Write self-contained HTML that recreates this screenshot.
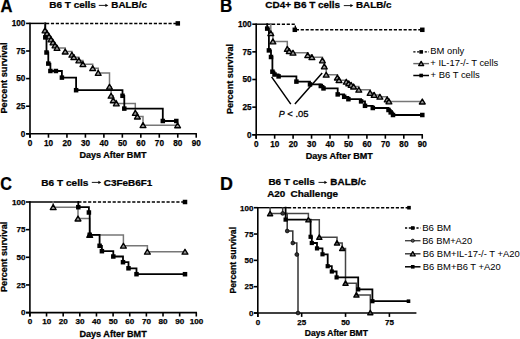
<!DOCTYPE html><html><head><meta charset="utf-8"><style>html,body{margin:0;padding:0;background:#fff;}svg{display:block;} text{font-family:"Liberation Sans",sans-serif;fill:#000;} text[font-weight=bold]{stroke:#000;stroke-width:0.25px;}</style></head><body>
<svg width="520" height="339" viewBox="0 0 520 339">
<rect width="520" height="339" fill="#fff"/>
<text transform="translate(0.49 12) scale(0.9370 1)" font-size="17.68" font-weight="bold">A</text>
<text transform="translate(219.99 12.4) scale(0.9643 1)" font-size="17.68" font-weight="bold">B</text>
<text transform="translate(0.25 189.6) scale(0.9153 1)" font-size="17.68" font-weight="bold">C</text>
<text transform="translate(220.04 189.7) scale(0.9953 1)" font-size="17.97" font-weight="bold">D</text>
<text transform="translate(49.25 8.4) scale(1.0709 1)" font-size="9.35" font-weight="bold">B6 T cells</text>
<path d="M98.8 5.4H105.9" stroke="#000" stroke-width="0.9"/>
<path d="M108.3 5.4L105.4 3.7L105.4 7.1Z" fill="#000"/>
<text transform="translate(111.36 8.45) scale(1.0696 1)" font-size="9.2" font-weight="bold">BALB/c</text>
<path d="M30 22.7V137.7" stroke="#000" stroke-width="1.6" fill="none"/>
<path d="M26.1 133.8H196.93" stroke="#000" stroke-width="1.6" fill="none"/>
<path d="M30 133.8V137.7" stroke="#000" stroke-width="1.6"/>
<text x="30.1" y="145.8" font-size="8.2" font-weight="bold" text-anchor="middle">0</text>
<path d="M48.47 133.8V137.7" stroke="#000" stroke-width="1.6"/>
<text x="48.57" y="145.8" font-size="8.2" font-weight="bold" text-anchor="middle">10</text>
<path d="M66.94 133.8V137.7" stroke="#000" stroke-width="1.6"/>
<text x="67.04" y="145.8" font-size="8.2" font-weight="bold" text-anchor="middle">20</text>
<path d="M85.41 133.8V137.7" stroke="#000" stroke-width="1.6"/>
<text x="85.51" y="145.8" font-size="8.2" font-weight="bold" text-anchor="middle">30</text>
<path d="M103.88 133.8V137.7" stroke="#000" stroke-width="1.6"/>
<text x="103.98" y="145.8" font-size="8.2" font-weight="bold" text-anchor="middle">40</text>
<path d="M122.35 133.8V137.7" stroke="#000" stroke-width="1.6"/>
<text x="122.45" y="145.8" font-size="8.2" font-weight="bold" text-anchor="middle">50</text>
<path d="M140.82 133.8V137.7" stroke="#000" stroke-width="1.6"/>
<text x="140.92" y="145.8" font-size="8.2" font-weight="bold" text-anchor="middle">60</text>
<path d="M159.29 133.8V137.7" stroke="#000" stroke-width="1.6"/>
<text x="159.39" y="145.8" font-size="8.2" font-weight="bold" text-anchor="middle">70</text>
<path d="M177.76 133.8V137.7" stroke="#000" stroke-width="1.6"/>
<text x="177.86" y="145.8" font-size="8.2" font-weight="bold" text-anchor="middle">80</text>
<path d="M196.23 133.8V137.7" stroke="#000" stroke-width="1.6"/>
<text x="196.33" y="145.8" font-size="8.2" font-weight="bold" text-anchor="middle">90</text>
<path d="M26.1 133.8H30" stroke="#000" stroke-width="1.6"/>
<text x="25.3" y="136.67" font-size="8.2" font-weight="bold" text-anchor="end">0</text>
<path d="M26.1 106.2H30" stroke="#000" stroke-width="1.6"/>
<text x="25.3" y="109.07" font-size="8.2" font-weight="bold" text-anchor="end">25</text>
<path d="M26.1 78.6H30" stroke="#000" stroke-width="1.6"/>
<text x="25.3" y="81.47" font-size="8.2" font-weight="bold" text-anchor="end">50</text>
<path d="M26.1 51H30" stroke="#000" stroke-width="1.6"/>
<text x="25.3" y="53.87" font-size="8.2" font-weight="bold" text-anchor="end">75</text>
<path d="M26.1 23.4H30" stroke="#000" stroke-width="1.6"/>
<text x="25.3" y="26.27" font-size="8.2" font-weight="bold" text-anchor="end">100</text>
<text transform="translate(79.41 158) scale(1.0410 1)" font-size="8.7" font-weight="bold">Days After BMT</text>
<text transform="translate(7 113.6) rotate(-90) scale(1.0249 1)" font-size="8.99" font-weight="bold">Percent survival</text>
<path d="M30 23.4H46" stroke="#000" stroke-width="1.5"/>
<path d="M46 23.4H178" stroke="#000" stroke-width="1.45" stroke-dasharray="3.2 1.7"/>
<rect x="175.55" y="21.15" width="4.5" height="4.5" fill="#000"/>
<path d="M44.1 23.4H45V30.5H47V33.5H49V36.5H51V39.5H53V42.5H55V45.5H57V48H65.2V51.6H71.9V54.8H73.8V57.2H78.8V60.5H82.9V64.2H92.7V68.3H98.2V73H109.5V86.8H111.1V95.8H113.2V100.4H116.3V103.5H135.3V113H137.4V116.6H143V125.2H177.6" fill="none" stroke="#777" stroke-width="1.5"/>
<path d="M44.4 23.4H45.3V37.4H46.5V52.5H48.3V63.6H50.4V71H61.9V77.6H76.1V90.2H122.5V95.8H124.3V108.6H162.8V121H176.5" fill="none" stroke="#000" stroke-width="1.8"/>
<path d="M45 27.95L47.9 32.85L42.1 32.85Z" fill="#959595" stroke="#000" stroke-width="1.35" stroke-linejoin="round"/>
<path d="M47 30.95L49.9 35.85L44.1 35.85Z" fill="#959595" stroke="#000" stroke-width="1.35" stroke-linejoin="round"/>
<path d="M49 33.95L51.9 38.85L46.1 38.85Z" fill="#959595" stroke="#000" stroke-width="1.35" stroke-linejoin="round"/>
<path d="M51 36.95L53.9 41.85L48.1 41.85Z" fill="#959595" stroke="#000" stroke-width="1.35" stroke-linejoin="round"/>
<path d="M53 39.95L55.9 44.85L50.1 44.85Z" fill="#959595" stroke="#000" stroke-width="1.35" stroke-linejoin="round"/>
<path d="M55 42.95L57.9 47.85L52.1 47.85Z" fill="#959595" stroke="#000" stroke-width="1.35" stroke-linejoin="round"/>
<path d="M57 45.45L59.9 50.35L54.1 50.35Z" fill="#959595" stroke="#000" stroke-width="1.35" stroke-linejoin="round"/>
<path d="M65.2 49.05L68.1 53.95L62.3 53.95Z" fill="#959595" stroke="#000" stroke-width="1.35" stroke-linejoin="round"/>
<path d="M71.9 52.25L74.8 57.15L69 57.15Z" fill="#959595" stroke="#000" stroke-width="1.35" stroke-linejoin="round"/>
<path d="M73.8 54.65L76.7 59.55L70.9 59.55Z" fill="#959595" stroke="#000" stroke-width="1.35" stroke-linejoin="round"/>
<path d="M78.8 57.95L81.7 62.85L75.9 62.85Z" fill="#959595" stroke="#000" stroke-width="1.35" stroke-linejoin="round"/>
<path d="M82.9 61.65L85.8 66.55L80 66.55Z" fill="#959595" stroke="#000" stroke-width="1.35" stroke-linejoin="round"/>
<path d="M92.7 65.75L95.6 70.65L89.8 70.65Z" fill="#959595" stroke="#000" stroke-width="1.35" stroke-linejoin="round"/>
<path d="M98.2 70.45L101.1 75.35L95.3 75.35Z" fill="#959595" stroke="#000" stroke-width="1.35" stroke-linejoin="round"/>
<path d="M109.5 84.25L112.4 89.15L106.6 89.15Z" fill="#959595" stroke="#000" stroke-width="1.35" stroke-linejoin="round"/>
<path d="M111.1 93.25L114 98.15L108.2 98.15Z" fill="#959595" stroke="#000" stroke-width="1.35" stroke-linejoin="round"/>
<path d="M113.2 97.85L116.1 102.75L110.3 102.75Z" fill="#959595" stroke="#000" stroke-width="1.35" stroke-linejoin="round"/>
<path d="M116.3 100.95L119.2 105.85L113.4 105.85Z" fill="#959595" stroke="#000" stroke-width="1.35" stroke-linejoin="round"/>
<path d="M135.3 110.45L138.2 115.35L132.4 115.35Z" fill="#959595" stroke="#000" stroke-width="1.35" stroke-linejoin="round"/>
<path d="M137.4 114.05L140.3 118.95L134.5 118.95Z" fill="#959595" stroke="#000" stroke-width="1.35" stroke-linejoin="round"/>
<path d="M143 122.65L145.9 127.55L140.1 127.55Z" fill="#959595" stroke="#000" stroke-width="1.35" stroke-linejoin="round"/>
<path d="M177.6 122.85L180.5 127.75L174.7 127.75Z" fill="#959595" stroke="#000" stroke-width="1.35" stroke-linejoin="round"/>
<rect x="43.05" y="35.15" width="4.5" height="4.5" fill="#000"/>
<rect x="44.25" y="50.25" width="4.5" height="4.5" fill="#000"/>
<rect x="46.05" y="61.35" width="4.5" height="4.5" fill="#000"/>
<rect x="48.15" y="68.75" width="4.5" height="4.5" fill="#000"/>
<rect x="59.65" y="75.35" width="4.5" height="4.5" fill="#000"/>
<rect x="73.85" y="87.95" width="4.5" height="4.5" fill="#000"/>
<rect x="120.25" y="93.55" width="4.5" height="4.5" fill="#000"/>
<rect x="122.05" y="106.35" width="4.5" height="4.5" fill="#000"/>
<rect x="160.55" y="118.75" width="4.5" height="4.5" fill="#000"/>
<rect x="53.65" y="68.75" width="4.5" height="4.5" fill="#000"/>
<rect x="174.05" y="118.75" width="4.5" height="4.5" fill="#000"/>
<text transform="translate(265.3 8.4) scale(1.0640 1)" font-size="9.35" font-weight="bold">CD4+ B6 T cells</text>
<path d="M343.8 5.6H350.9" stroke="#000" stroke-width="0.9"/>
<path d="M353.3 5.6L350.4 3.9L350.4 7.3Z" fill="#000"/>
<text transform="translate(355.96 8.4) scale(1.0696 1)" font-size="9.2" font-weight="bold">BALB/c</text>
<path d="M256.2 23.5V138.7" stroke="#000" stroke-width="1.6" fill="none"/>
<path d="M252.3 134.8H422.95" stroke="#000" stroke-width="1.6" fill="none"/>
<path d="M256.2 134.8V138.7" stroke="#000" stroke-width="1.6"/>
<text x="256.3" y="147" font-size="8.2" font-weight="bold" text-anchor="middle">0</text>
<path d="M274.65 134.8V138.7" stroke="#000" stroke-width="1.6"/>
<text x="274.75" y="147" font-size="8.2" font-weight="bold" text-anchor="middle">10</text>
<path d="M293.1 134.8V138.7" stroke="#000" stroke-width="1.6"/>
<text x="293.2" y="147" font-size="8.2" font-weight="bold" text-anchor="middle">20</text>
<path d="M311.55 134.8V138.7" stroke="#000" stroke-width="1.6"/>
<text x="311.65" y="147" font-size="8.2" font-weight="bold" text-anchor="middle">30</text>
<path d="M330 134.8V138.7" stroke="#000" stroke-width="1.6"/>
<text x="330.1" y="147" font-size="8.2" font-weight="bold" text-anchor="middle">40</text>
<path d="M348.45 134.8V138.7" stroke="#000" stroke-width="1.6"/>
<text x="348.55" y="147" font-size="8.2" font-weight="bold" text-anchor="middle">50</text>
<path d="M366.9 134.8V138.7" stroke="#000" stroke-width="1.6"/>
<text x="367" y="147" font-size="8.2" font-weight="bold" text-anchor="middle">60</text>
<path d="M385.35 134.8V138.7" stroke="#000" stroke-width="1.6"/>
<text x="385.45" y="147" font-size="8.2" font-weight="bold" text-anchor="middle">70</text>
<path d="M403.8 134.8V138.7" stroke="#000" stroke-width="1.6"/>
<text x="403.9" y="147" font-size="8.2" font-weight="bold" text-anchor="middle">80</text>
<path d="M422.25 134.8V138.7" stroke="#000" stroke-width="1.6"/>
<text x="422.35" y="147" font-size="8.2" font-weight="bold" text-anchor="middle">90</text>
<path d="M252.3 134.8H256.2" stroke="#000" stroke-width="1.6"/>
<text x="251.6" y="137.67" font-size="8.2" font-weight="bold" text-anchor="end">0</text>
<path d="M252.3 107.15H256.2" stroke="#000" stroke-width="1.6"/>
<text x="251.6" y="110.02" font-size="8.2" font-weight="bold" text-anchor="end">25</text>
<path d="M252.3 79.5H256.2" stroke="#000" stroke-width="1.6"/>
<text x="251.6" y="82.37" font-size="8.2" font-weight="bold" text-anchor="end">50</text>
<path d="M252.3 51.85H256.2" stroke="#000" stroke-width="1.6"/>
<text x="251.6" y="54.72" font-size="8.2" font-weight="bold" text-anchor="end">75</text>
<path d="M252.3 24.2H256.2" stroke="#000" stroke-width="1.6"/>
<text x="251.6" y="27.07" font-size="8.2" font-weight="bold" text-anchor="end">100</text>
<text transform="translate(305.71 158.7) scale(1.0410 1)" font-size="8.7" font-weight="bold">Days After BMT</text>
<text transform="translate(232.8 114.09) rotate(-90) scale(0.9787 1)" font-size="9.28" font-weight="bold">Percent survival</text>
<path d="M256 24.2H272" stroke="#000" stroke-width="1.4"/>
<path d="M272 24.2H295.3V29.8H422" fill="none" stroke="#000" stroke-width="1.45" stroke-dasharray="3.2 1.7"/>
<rect x="292.55" y="27.55" width="4.5" height="4.5" fill="#000"/>
<rect x="420.05" y="27.55" width="4.5" height="4.5" fill="#000"/>
<path d="M269.9 24.2H270.8V33.3H272.9V41.5H287.3V48.9H289.2V51.2H293V52.8H307.7V55.2H311.9V57.2H322.4V60.5H324.3V66.5H326.2V74.8H337.4V77.6H339V80.2H346.3V81.8H348.7V83.4H351.1V85H353.6V86.6H358.8V89.8H370.1V93H374.1V95H379.9V96.8H387.2V99.5H388.9V101.5H422.3" fill="none" stroke="#777" stroke-width="1.5"/>
<path d="M266.3 24.2H267.2V28.6H268.9V50.4H271V57H272.4V71.7H274.5V74.5H278.6V76.4H296.4V81.6H310V84.4H320.8V86H323.5V88.4H337.7V94.4H344.2V96.8H348.4V99.2H361.1V101.4H365V105.8H372.8V108H388.5V110H390.7V112.4H393V115H422.3" fill="none" stroke="#000" stroke-width="1.8"/>
<path d="M270.8 30.75L273.7 35.65L267.9 35.65Z" fill="#959595" stroke="#000" stroke-width="1.35" stroke-linejoin="round"/>
<path d="M272.9 38.95L275.8 43.85L270 43.85Z" fill="#959595" stroke="#000" stroke-width="1.35" stroke-linejoin="round"/>
<path d="M287.3 46.35L290.2 51.25L284.4 51.25Z" fill="#959595" stroke="#000" stroke-width="1.35" stroke-linejoin="round"/>
<path d="M289.2 48.65L292.1 53.55L286.3 53.55Z" fill="#959595" stroke="#000" stroke-width="1.35" stroke-linejoin="round"/>
<path d="M293 50.25L295.9 55.15L290.1 55.15Z" fill="#959595" stroke="#000" stroke-width="1.35" stroke-linejoin="round"/>
<path d="M307.7 52.65L310.6 57.55L304.8 57.55Z" fill="#959595" stroke="#000" stroke-width="1.35" stroke-linejoin="round"/>
<path d="M311.9 54.65L314.8 59.55L309 59.55Z" fill="#959595" stroke="#000" stroke-width="1.35" stroke-linejoin="round"/>
<path d="M322.4 57.95L325.3 62.85L319.5 62.85Z" fill="#959595" stroke="#000" stroke-width="1.35" stroke-linejoin="round"/>
<path d="M324.3 63.95L327.2 68.85L321.4 68.85Z" fill="#959595" stroke="#000" stroke-width="1.35" stroke-linejoin="round"/>
<path d="M326.2 72.25L329.1 77.15L323.3 77.15Z" fill="#959595" stroke="#000" stroke-width="1.35" stroke-linejoin="round"/>
<path d="M337.4 75.05L340.3 79.95L334.5 79.95Z" fill="#959595" stroke="#000" stroke-width="1.35" stroke-linejoin="round"/>
<path d="M339 77.65L341.9 82.55L336.1 82.55Z" fill="#959595" stroke="#000" stroke-width="1.35" stroke-linejoin="round"/>
<path d="M346.3 79.25L349.2 84.15L343.4 84.15Z" fill="#959595" stroke="#000" stroke-width="1.35" stroke-linejoin="round"/>
<path d="M348.7 80.85L351.6 85.75L345.8 85.75Z" fill="#959595" stroke="#000" stroke-width="1.35" stroke-linejoin="round"/>
<path d="M351.1 82.45L354 87.35L348.2 87.35Z" fill="#959595" stroke="#000" stroke-width="1.35" stroke-linejoin="round"/>
<path d="M353.6 84.05L356.5 88.95L350.7 88.95Z" fill="#959595" stroke="#000" stroke-width="1.35" stroke-linejoin="round"/>
<path d="M358.8 87.25L361.7 92.15L355.9 92.15Z" fill="#959595" stroke="#000" stroke-width="1.35" stroke-linejoin="round"/>
<path d="M370.1 90.45L373 95.35L367.2 95.35Z" fill="#959595" stroke="#000" stroke-width="1.35" stroke-linejoin="round"/>
<path d="M374.1 92.45L377 97.35L371.2 97.35Z" fill="#959595" stroke="#000" stroke-width="1.35" stroke-linejoin="round"/>
<path d="M379.9 94.25L382.8 99.15L377 99.15Z" fill="#959595" stroke="#000" stroke-width="1.35" stroke-linejoin="round"/>
<path d="M387.2 96.95L390.1 101.85L384.3 101.85Z" fill="#959595" stroke="#000" stroke-width="1.35" stroke-linejoin="round"/>
<path d="M388.9 98.95L391.8 103.85L386 103.85Z" fill="#959595" stroke="#000" stroke-width="1.35" stroke-linejoin="round"/>
<path d="M422.3 99.05L425.2 103.95L419.4 103.95Z" fill="#959595" stroke="#000" stroke-width="1.35" stroke-linejoin="round"/>
<rect x="264.95" y="26.35" width="4.5" height="4.5" fill="#000"/>
<rect x="266.65" y="48.15" width="4.5" height="4.5" fill="#000"/>
<rect x="268.75" y="54.75" width="4.5" height="4.5" fill="#000"/>
<rect x="270.15" y="69.45" width="4.5" height="4.5" fill="#000"/>
<rect x="272.25" y="72.25" width="4.5" height="4.5" fill="#000"/>
<rect x="276.35" y="74.15" width="4.5" height="4.5" fill="#000"/>
<rect x="294.15" y="79.35" width="4.5" height="4.5" fill="#000"/>
<rect x="307.75" y="82.15" width="4.5" height="4.5" fill="#000"/>
<rect x="318.55" y="83.75" width="4.5" height="4.5" fill="#000"/>
<rect x="321.25" y="86.15" width="4.5" height="4.5" fill="#000"/>
<rect x="335.45" y="92.15" width="4.5" height="4.5" fill="#000"/>
<rect x="341.95" y="94.55" width="4.5" height="4.5" fill="#000"/>
<rect x="346.15" y="96.95" width="4.5" height="4.5" fill="#000"/>
<rect x="358.85" y="99.15" width="4.5" height="4.5" fill="#000"/>
<rect x="362.75" y="103.55" width="4.5" height="4.5" fill="#000"/>
<rect x="370.55" y="105.75" width="4.5" height="4.5" fill="#000"/>
<rect x="386.25" y="107.75" width="4.5" height="4.5" fill="#000"/>
<rect x="388.45" y="110.15" width="4.5" height="4.5" fill="#000"/>
<rect x="390.75" y="112.75" width="4.5" height="4.5" fill="#000"/>
<rect x="420.05" y="112.75" width="4.5" height="4.5" fill="#000"/>
<path d="M271.6 76.9L290.8 104.1M294.9 104.1L322.2 73.1" stroke="#000" stroke-width="1.5" fill="none"/>
<g stroke="#000" stroke-width="0.3">
<text transform="translate(278.73 117.2) scale(0.9154 1)" font-size="9.71" font-weight="normal" font-style="italic">P</text>
<text transform="translate(287.33 117.2) scale(0.9726 1)" font-size="9.71" font-weight="normal">&lt; .05</text>
</g>
<path d="M413.3 51.9H429" stroke="#000" stroke-width="1.4" stroke-dasharray="2.2 1.6"/>
<rect x="419.35" y="50.1" width="3.6" height="3.6" fill="#000"/>
<path d="M413.3 63.6H429" stroke="#666" stroke-width="1.4"/>
<path d="M421.15 61.43L423.61 65.6L418.69 65.6Z" fill="#959595" stroke="#000" stroke-width="1.35" stroke-linejoin="round"/>
<path d="M413.3 75.5H429" stroke="#000" stroke-width="1.5"/>
<rect x="419.35" y="73.7" width="3.6" height="3.6" fill="#000"/>
<text transform="translate(430.24 54.4) scale(1.0347 1)" font-size="9.13" font-weight="normal">BM only</text>
<text transform="translate(430.33 65.9) scale(1.0005 1)" font-size="9.42" font-weight="normal">+ IL-17-/- T cells</text>
<text transform="translate(430.53 77.9) scale(1.0355 1)" font-size="9.13" font-weight="normal">+ B6 T cells</text>
<text transform="translate(41.35 185.5) scale(1.1036 1)" font-size="9.13" font-weight="bold">B6 T cells</text>
<path d="M91.8 182.4H98.9" stroke="#000" stroke-width="0.9"/>
<path d="M101.3 182.4L98.4 180.7L98.4 184.1Z" fill="#000"/>
<text transform="translate(103.8 185.5) scale(1.0896 1)" font-size="9.13" font-weight="bold">C3FeB6F1</text>
<path d="M29.9 201.3V316.5" stroke="#000" stroke-width="1.6" fill="none"/>
<path d="M26 312.6H197" stroke="#000" stroke-width="1.6" fill="none"/>
<path d="M29.9 312.6V316.5" stroke="#000" stroke-width="1.6"/>
<text x="30" y="324.4" font-size="8.1" font-weight="bold" text-anchor="middle">0</text>
<path d="M46.54 312.6V316.5" stroke="#000" stroke-width="1.6"/>
<text x="46.64" y="324.4" font-size="8.1" font-weight="bold" text-anchor="middle">10</text>
<path d="M63.18 312.6V316.5" stroke="#000" stroke-width="1.6"/>
<text x="63.28" y="324.4" font-size="8.1" font-weight="bold" text-anchor="middle">20</text>
<path d="M79.82 312.6V316.5" stroke="#000" stroke-width="1.6"/>
<text x="79.92" y="324.4" font-size="8.1" font-weight="bold" text-anchor="middle">30</text>
<path d="M96.46 312.6V316.5" stroke="#000" stroke-width="1.6"/>
<text x="96.56" y="324.4" font-size="8.1" font-weight="bold" text-anchor="middle">40</text>
<path d="M113.1 312.6V316.5" stroke="#000" stroke-width="1.6"/>
<text x="113.2" y="324.4" font-size="8.1" font-weight="bold" text-anchor="middle">50</text>
<path d="M129.74 312.6V316.5" stroke="#000" stroke-width="1.6"/>
<text x="129.84" y="324.4" font-size="8.1" font-weight="bold" text-anchor="middle">60</text>
<path d="M146.38 312.6V316.5" stroke="#000" stroke-width="1.6"/>
<text x="146.48" y="324.4" font-size="8.1" font-weight="bold" text-anchor="middle">70</text>
<path d="M163.02 312.6V316.5" stroke="#000" stroke-width="1.6"/>
<text x="163.12" y="324.4" font-size="8.1" font-weight="bold" text-anchor="middle">80</text>
<path d="M179.66 312.6V316.5" stroke="#000" stroke-width="1.6"/>
<text x="179.76" y="324.4" font-size="8.1" font-weight="bold" text-anchor="middle">90</text>
<path d="M196.3 312.6V316.5" stroke="#000" stroke-width="1.6"/>
<text x="196.4" y="324.4" font-size="8.1" font-weight="bold" text-anchor="middle">100</text>
<path d="M26 312.6H29.9" stroke="#000" stroke-width="1.6"/>
<text x="25.5" y="315.44" font-size="8.1" font-weight="bold" text-anchor="end">0</text>
<path d="M26 284.95H29.9" stroke="#000" stroke-width="1.6"/>
<text x="25.5" y="287.79" font-size="8.1" font-weight="bold" text-anchor="end">25</text>
<path d="M26 257.3H29.9" stroke="#000" stroke-width="1.6"/>
<text x="25.5" y="260.13" font-size="8.1" font-weight="bold" text-anchor="end">50</text>
<path d="M26 229.65H29.9" stroke="#000" stroke-width="1.6"/>
<text x="25.5" y="232.49" font-size="8.1" font-weight="bold" text-anchor="end">75</text>
<path d="M26 202H29.9" stroke="#000" stroke-width="1.6"/>
<text x="25.5" y="204.84" font-size="8.1" font-weight="bold" text-anchor="end">100</text>
<text transform="translate(79.41 336.7) scale(1.0457 1)" font-size="8.7" font-weight="bold">Days After BMT</text>
<text transform="translate(6.8 291.99) rotate(-90) scale(1.0132 1)" font-size="8.99" font-weight="bold">Percent survival</text>
<path d="M29.8 202H78.3" stroke="#000" stroke-width="1.5"/>
<path d="M78.3 202H185" stroke="#000" stroke-width="1.45" stroke-dasharray="3.2 1.7"/>
<rect x="182.75" y="199.75" width="4.5" height="4.5" fill="#000"/>
<path d="M52.3 202H53.2V207.2H78V218.6H89.7V235H123.4V245.8H147.4V251.8H185" fill="none" stroke="#777" stroke-width="1.5"/>
<path d="M77.4 202H78.3V207.2H88.9V212.5H89.7V234.8H99.6V245.8H101.9V251.2H113.3V256.5H123V262.2H128.5V268.3H136.5V274.2H185" fill="none" stroke="#000" stroke-width="1.8"/>
<path d="M53.2 204.65L56.1 209.55L50.3 209.55Z" fill="#959595" stroke="#000" stroke-width="1.35" stroke-linejoin="round"/>
<path d="M78 216.05L80.9 220.95L75.1 220.95Z" fill="#959595" stroke="#000" stroke-width="1.35" stroke-linejoin="round"/>
<path d="M89.7 232.45L92.6 237.35L86.8 237.35Z" fill="#959595" stroke="#000" stroke-width="1.35" stroke-linejoin="round"/>
<path d="M123.4 243.25L126.3 248.15L120.5 248.15Z" fill="#959595" stroke="#000" stroke-width="1.35" stroke-linejoin="round"/>
<path d="M147.4 249.25L150.3 254.15L144.5 254.15Z" fill="#959595" stroke="#000" stroke-width="1.35" stroke-linejoin="round"/>
<path d="M185 249.25L187.9 254.15L182.1 254.15Z" fill="#959595" stroke="#000" stroke-width="1.35" stroke-linejoin="round"/>
<rect x="76.05" y="204.95" width="4.5" height="4.5" fill="#000"/>
<rect x="86.65" y="210.25" width="4.5" height="4.5" fill="#000"/>
<rect x="87.45" y="232.55" width="4.5" height="4.5" fill="#000"/>
<rect x="97.35" y="243.55" width="4.5" height="4.5" fill="#000"/>
<rect x="99.65" y="248.95" width="4.5" height="4.5" fill="#000"/>
<rect x="111.05" y="254.25" width="4.5" height="4.5" fill="#000"/>
<rect x="120.75" y="259.95" width="4.5" height="4.5" fill="#000"/>
<rect x="126.25" y="266.05" width="4.5" height="4.5" fill="#000"/>
<rect x="134.25" y="271.95" width="4.5" height="4.5" fill="#000"/>
<rect x="182.75" y="271.95" width="4.5" height="4.5" fill="#000"/>
<text transform="translate(268.45 185.4) scale(1.0892 1)" font-size="9.13" font-weight="bold">B6 T cells</text>
<path d="M318.5 182.4H324.9" stroke="#000" stroke-width="0.9"/>
<path d="M327.3 182.4L324.4 180.7L324.4 184.1Z" fill="#000"/>
<text transform="translate(330.36 185.3) scale(1.0758 1)" font-size="9.2" font-weight="bold">BALB/c</text>
<text transform="translate(267.15 196.5) scale(1.0829 1)" font-size="9.13" font-weight="bold">A20</text>
<text transform="translate(290.5 196.5) scale(1.0917 1)" font-size="9.13" font-weight="bold">Challenge</text>
<path d="M257.8 207V316.9" stroke="#000" stroke-width="1.6" fill="none"/>
<path d="M253.9 313H416.42" stroke="#000" stroke-width="1.6" fill="none"/>
<path d="M257.8 313V316.9" stroke="#000" stroke-width="1.6"/>
<text x="257.9" y="324.6" font-size="8" font-weight="bold" text-anchor="middle">0</text>
<path d="M301.67 313V316.9" stroke="#000" stroke-width="1.6"/>
<text x="301.77" y="324.6" font-size="8" font-weight="bold" text-anchor="middle">25</text>
<path d="M345.54 313V316.9" stroke="#000" stroke-width="1.6"/>
<text x="345.64" y="324.6" font-size="8" font-weight="bold" text-anchor="middle">50</text>
<path d="M389.4 313V316.9" stroke="#000" stroke-width="1.6"/>
<text x="389.5" y="324.6" font-size="8" font-weight="bold" text-anchor="middle">75</text>
<path d="M253.9 313H257.8" stroke="#000" stroke-width="1.6"/>
<text x="253.4" y="315.8" font-size="8" font-weight="bold" text-anchor="end">0</text>
<path d="M253.9 286.68H257.8" stroke="#000" stroke-width="1.6"/>
<text x="253.4" y="289.48" font-size="8" font-weight="bold" text-anchor="end">25</text>
<path d="M253.9 260.35H257.8" stroke="#000" stroke-width="1.6"/>
<text x="253.4" y="263.15" font-size="8" font-weight="bold" text-anchor="end">50</text>
<path d="M253.9 234.03H257.8" stroke="#000" stroke-width="1.6"/>
<text x="253.4" y="236.83" font-size="8" font-weight="bold" text-anchor="end">75</text>
<path d="M253.9 207.7H257.8" stroke="#000" stroke-width="1.6"/>
<text x="253.4" y="210.5" font-size="8" font-weight="bold" text-anchor="end">100</text>
<text transform="translate(304.85 336) scale(1.0331 1)" font-size="8.26" font-weight="bold">Days After BMT</text>
<text transform="translate(235.6 293.46) rotate(-90) scale(1.0251 1)" font-size="8.41" font-weight="bold">Percent survival</text>
<path d="M257.8 207.7H288" stroke="#000" stroke-width="1.4"/>
<path d="M288 207.7H409" stroke="#000" stroke-width="1.45" stroke-dasharray="3.2 1.7"/>
<rect x="407.2" y="205.9" width="3.6" height="3.6" fill="#000"/>
<path d="M281.8 207.7H282.7V213.4H287.2V231H292.8V243H296.8V254.5H298V313" fill="none" stroke="#333" stroke-width="1.5"/>
<path d="M269.2 207.7H270.1V213.6H308.4V219.8H319.3V237.2H337V243H342.2V248.4H345.5V283.2H356.4V295H370.3V312.6" fill="none" stroke="#444" stroke-width="1.5"/>
<path d="M284.7 207.7H285.6V219.6H310.6V236.8H311.8V243H317V248.4H322.5V254.3H327.7V266.2H331.8V271.5H336.6V277.4H358.2V289.4H372.4V301.2H408.5" fill="none" stroke="#000" stroke-width="1.8"/>
<circle cx="282.7" cy="213.4" r="1.9" fill="#333" stroke="#000" stroke-width="0.7"/>
<circle cx="287.2" cy="231" r="1.9" fill="#333" stroke="#000" stroke-width="0.7"/>
<circle cx="292.8" cy="243" r="1.9" fill="#333" stroke="#000" stroke-width="0.7"/>
<circle cx="296.8" cy="254.5" r="1.9" fill="#333" stroke="#000" stroke-width="0.7"/>
<circle cx="298" cy="313" r="1.9" fill="#333" stroke="#000" stroke-width="0.7"/>
<path d="M270.1 211.31L272.71 215.72L267.49 215.72Z" fill="#555" stroke="#000" stroke-width="1.35" stroke-linejoin="round"/>
<path d="M308.4 217.51L311.01 221.92L305.79 221.92Z" fill="#555" stroke="#000" stroke-width="1.35" stroke-linejoin="round"/>
<path d="M319.3 234.91L321.91 239.32L316.69 239.32Z" fill="#555" stroke="#000" stroke-width="1.35" stroke-linejoin="round"/>
<path d="M337 240.71L339.61 245.12L334.39 245.12Z" fill="#555" stroke="#000" stroke-width="1.35" stroke-linejoin="round"/>
<path d="M342.2 246.11L344.81 250.52L339.59 250.52Z" fill="#555" stroke="#000" stroke-width="1.35" stroke-linejoin="round"/>
<path d="M345.5 280.91L348.11 285.32L342.89 285.32Z" fill="#555" stroke="#000" stroke-width="1.35" stroke-linejoin="round"/>
<path d="M356.4 292.71L359.01 297.12L353.79 297.12Z" fill="#555" stroke="#000" stroke-width="1.35" stroke-linejoin="round"/>
<path d="M370.3 310.31L372.91 314.72L367.69 314.72Z" fill="#555" stroke="#000" stroke-width="1.35" stroke-linejoin="round"/>
<rect x="283.5" y="217.5" width="4.2" height="4.2" fill="#000"/>
<rect x="308.5" y="234.7" width="4.2" height="4.2" fill="#000"/>
<rect x="309.7" y="240.9" width="4.2" height="4.2" fill="#000"/>
<rect x="314.9" y="246.3" width="4.2" height="4.2" fill="#000"/>
<rect x="320.4" y="252.2" width="4.2" height="4.2" fill="#000"/>
<rect x="325.6" y="264.1" width="4.2" height="4.2" fill="#000"/>
<rect x="329.7" y="269.4" width="4.2" height="4.2" fill="#000"/>
<rect x="334.5" y="275.3" width="4.2" height="4.2" fill="#000"/>
<rect x="356.1" y="287.3" width="4.2" height="4.2" fill="#000"/>
<rect x="370.3" y="299.1" width="4.2" height="4.2" fill="#000"/>
<rect x="406.7" y="299.4" width="3.6" height="3.6" fill="#000"/>
<path d="M405 228H420.5" stroke="#000" stroke-width="1.4" stroke-dasharray="2.2 1.6"/>
<rect x="410.95" y="226.2" width="3.6" height="3.6" fill="#000"/>
<path d="M405 240.7H420.5" stroke="#444" stroke-width="1.4"/>
<circle cx="412.75" cy="240.7" r="1.6" fill="#555" stroke="#000" stroke-width="0.7"/>
<path d="M405 253.8H420.5" stroke="#333" stroke-width="1.4"/>
<path d="M412.75 251.63L415.21 255.8L410.29 255.8Z" fill="#959595" stroke="#000" stroke-width="1.35" stroke-linejoin="round"/>
<path d="M405 266.8H420.5" stroke="#000" stroke-width="1.5"/>
<rect x="410.95" y="265" width="3.6" height="3.6" fill="#000"/>
<text transform="translate(422.13 231.2) scale(1.0440 1)" font-size="9.28" font-weight="normal">B6 BM</text>
<text transform="translate(422.15 243.5) scale(1.0072 1)" font-size="9.28" font-weight="normal">B6 BM+A20</text>
<text transform="translate(422.74 256.5) scale(1.0021 1)" font-size="9.42" font-weight="normal">B6 BM+IL-17-/- T +A20</text>
<text transform="translate(422.75 269.6) scale(1.0135 1)" font-size="9.28" font-weight="normal">B6 BM+B6 T +A20</text>
</svg></body></html>
